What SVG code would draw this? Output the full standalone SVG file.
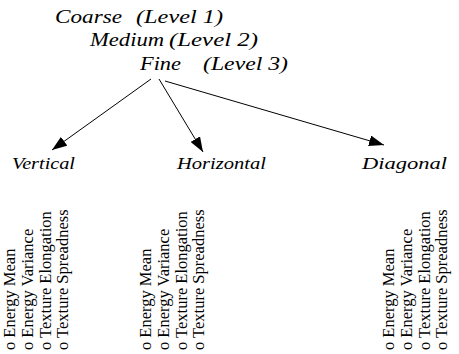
<svg xmlns="http://www.w3.org/2000/svg" width="459" height="354" viewBox="0 0 459 354">
<style>
.lvl{font-family:"Liberation Serif","Times New Roman",serif;font-style:italic;font-size:18px;fill:#000}
.lab{font-family:"Liberation Serif","Times New Roman",serif;font-style:italic;font-size:16px;fill:#000}
.item{font-family:"Liberation Serif","Times New Roman",serif;font-size:16.5px;fill:#000}
.edge{stroke:#000;stroke-width:1;fill:none;marker-end:url(#ah)}
</style>
<defs>
<marker id="ah" markerUnits="userSpaceOnUse" markerWidth="15" markerHeight="11" refX="15" refY="5.5" orient="auto">
<path d="M0,0 L15,5.5 L0,11 z" fill="#000"/>
</marker>
</defs>
<rect width="459" height="354" fill="#fff"/>
<g id="levels">
<text class="lvl" x="55" y="23"><tspan textLength="67" lengthAdjust="spacingAndGlyphs">Coarse</tspan><tspan x="136" textLength="87" lengthAdjust="spacingAndGlyphs">(Level 1)</tspan></text>
<text class="lvl" x="90" y="46"><tspan textLength="74" lengthAdjust="spacingAndGlyphs">Medium</tspan><tspan x="169" textLength="89" lengthAdjust="spacingAndGlyphs">(Level 2)</tspan></text>
<text class="lvl" x="140" y="70"><tspan textLength="41" lengthAdjust="spacingAndGlyphs">Fine</tspan><tspan x="203" textLength="85" lengthAdjust="spacingAndGlyphs">(Level 3)</tspan></text>
</g>
<g id="connectors">
<line class="edge" x1="151" y1="79" x2="52" y2="150"/>
<line class="edge" x1="159" y1="79" x2="203" y2="152"/>
<line class="edge" x1="165" y1="81" x2="384" y2="145"/>
</g>
<g id="vertical">
<text class="lab" x="12" y="169" textLength="63" lengthAdjust="spacingAndGlyphs">Vertical</text>
<text class="item" transform="translate(15,350) rotate(-90)">o Energy Mean</text>
<text class="item" transform="translate(33,350) rotate(-90)">o Energy Variance</text>
<text class="item" transform="translate(51,350) rotate(-90)">o Texture Elongation</text>
<text class="item" transform="translate(68,350) rotate(-90)">o Texture Spreadness</text>
</g>
<g id="horizontal">
<text class="lab" x="177" y="169" textLength="89" lengthAdjust="spacingAndGlyphs">Horizontal</text>
<text class="item" transform="translate(151,350) rotate(-90)">o Energy Mean</text>
<text class="item" transform="translate(169,350) rotate(-90)">o Energy Variance</text>
<text class="item" transform="translate(187,350) rotate(-90)">o Texture Elongation</text>
<text class="item" transform="translate(204,350) rotate(-90)">o Texture Spreadness</text>
</g>
<g id="diagonal">
<text class="lab" x="362" y="169" textLength="85" lengthAdjust="spacingAndGlyphs">Diagonal</text>
<text class="item" transform="translate(394,350) rotate(-90)">o Energy Mean</text>
<text class="item" transform="translate(412,350) rotate(-90)">o Energy Variance</text>
<text class="item" transform="translate(430,350) rotate(-90)">o Texture Elongation</text>
<text class="item" transform="translate(447,350) rotate(-90)">o Texture Spreadness</text>
</g>
</svg>
